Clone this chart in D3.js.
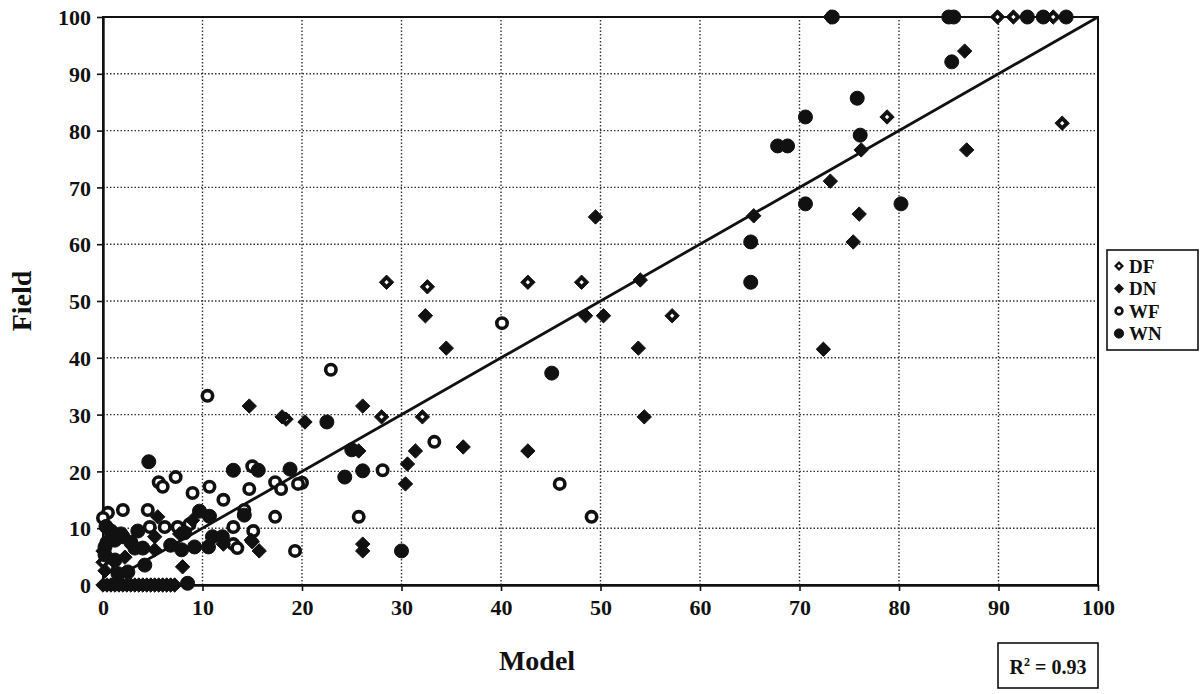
<!DOCTYPE html>
<html>
<head>
<meta charset="utf-8">
<script src="https://cdn.jsdelivr.net/npm/d3@7"></script>
<style>
  body { margin: 0; background: #fff; }
  svg text { font-family: "Liberation Serif", "Times New Roman", serif; fill: #111; }
</style>
</head>
<body>
<div id="chart"></div>
<script>
// ticks
var xTicks = [0, 10, 20, 30, 40, 50, 60, 70, 80, 90, 100];
var yTicks = [0, 10, 20, 30, 40, 50, 60, 70, 80, 90, 100];

// DF (hollow diamond)  [model, field]
var dfPoints = [
  [28.5, 53.3], [32.6, 52.5], [42.7, 53.3], [48.1, 53.3], [57.2, 47.4],
  [28.0, 29.6], [32.1, 29.6], [18.4, 29.2], [73.1, 100], [89.9, 100],
  [91.5, 100], [95.5, 100], [78.8, 82.4], [96.4, 81.3],
  [0, 0], [0.8, 0], [1.6, 0], [2.4, 0], [3.2, 0], [4.0, 0], [4.8, 0],
  [5.6, 0], [6.4, 0], [7.2, 0], [0, 4.0]
];

// DN (filled diamond)
var dnPoints = [
  [32.4, 47.4], [34.5, 41.7], [48.5, 47.4], [50.3, 47.4], [54.0, 53.7],
  [53.8, 41.7], [49.5, 64.8], [54.4, 29.6], [42.7, 23.6], [31.4, 23.6],
  [36.2, 24.3], [30.6, 21.3], [30.4, 17.8], [26.1, 31.5], [20.3, 28.7],
  [25.7, 23.6], [26.1, 7.2], [26.1, 6.0], [14.7, 31.5], [18.0, 29.6],
  [65.4, 65.0], [76.0, 65.3], [75.4, 60.4], [72.4, 41.5], [73.1, 71.1],
  [76.2, 76.6], [86.8, 76.6], [86.6, 94.0], [5.5, 12.0], [9.0, 11.4],
  [14.9, 7.9], [15.7, 6.0], [15.0, 7.6], [8.0, 3.2], [5.2, 8.5],
  [5.2, 6.2], [2.2, 4.9], [12.1, 7.2], [7.7, 9.0], [0.4, 0], [1.2, 0],
  [2.0, 0], [2.8, 0], [3.6, 0], [4.4, 0], [5.2, 0], [6.0, 0], [6.8, 0],
  [0.2, 2.5], [0, 6.0]
];

// WF (hollow circle)
var wfPoints = [
  [40.1, 46.1], [45.9, 17.8], [49.1, 12.0], [33.3, 25.2], [28.1, 20.2],
  [22.9, 37.9], [20.0, 18.0], [25.7, 12.0], [10.5, 33.3], [15.0, 20.9],
  [7.3, 19.0], [5.6, 18.1], [6.0, 17.3], [10.7, 17.3], [9.0, 16.2],
  [14.7, 16.9], [17.3, 18.1], [17.9, 16.9], [19.6, 17.8], [12.1, 15.0],
  [2.0, 13.2], [0.5, 12.7], [0, 11.8], [4.5, 13.2], [14.2, 13.2],
  [17.3, 12.0], [4.7, 10.2], [6.2, 10.2], [7.5, 10.2], [8.7, 10.7],
  [13.1, 10.2], [15.1, 9.5], [19.3, 6.0], [0.5, 3.2], [13.1, 7.2],
  [13.5, 6.5]
];

// WN (filled circle)
var wnPoints = [
  [45.1, 37.3], [22.5, 28.7], [25.0, 23.8], [26.1, 20.1], [24.3, 19.0],
  [30.0, 6.0], [73.3, 100], [85.0, 100], [85.5, 100], [92.9, 100],
  [94.5, 100], [96.8, 100], [85.3, 92.1], [75.8, 85.7], [70.6, 82.4],
  [67.8, 77.3], [68.8, 77.3], [76.1, 79.2], [70.6, 67.1], [80.2, 67.1],
  [65.1, 60.4], [65.1, 53.3], [4.6, 21.7], [13.1, 20.2], [15.6, 20.2],
  [18.8, 20.4], [10.7, 12.1], [14.2, 12.3], [9.7, 13.0], [8.2, 9.2],
  [2.0, 8.5], [1.2, 7.9], [0.2, 6.7], [0.2, 5.3], [3.2, 6.5], [4.0, 6.5],
  [1.2, 4.4], [2.5, 2.3], [4.2, 3.5], [7.9, 6.2], [9.2, 6.7], [10.6, 6.7],
  [11.0, 8.5], [12.0, 8.5], [8.5, 0.3], [0.3, 10.3], [1.8, 9.0],
  [0.8, 9.5], [3.5, 9.5], [2.8, 7.5], [6.8, 7.0], [0.4, 7.5], [1.5, 2.0]
];

// regression line (y = x)
var fitLine = [[0, 0], [100, 100]];
var r2 = "0.93";

var legendNames = ["DF", "DN", "WF", "WN"];

var W = 1203, H = 694;
var m = { left: 103, right: 1098, top: 17, bottom: 585 };
var serif = "'Liberation Serif', 'Times New Roman', serif";

var svg = d3.select("#chart").append("svg")
    .attr("width", W)
    .attr("height", H);

var x = d3.scaleLinear().domain([0, 100]).range([m.left, m.right]);
var y = d3.scaleLinear().domain([0, 100]).range([m.bottom, m.top]);

// gridlines
var grid = svg.append("g").attr("class", "grid");
grid.selectAll(".vg")
    .data(xTicks.filter(function(d) { return d > 0 && d < 100; }))
    .enter().append("line")
    .attr("x1", function(d) { return x(d); })
    .attr("x2", function(d) { return x(d); })
    .attr("y1", y(0)).attr("y2", y(100))
    .attr("stroke", "#333").attr("stroke-width", 1.4)
    .attr("stroke-dasharray", "1.5,2");
grid.selectAll(".hg")
    .data(yTicks.filter(function(d) { return d > 0 && d < 100; }))
    .enter().append("line")
    .attr("y1", function(d) { return y(d); })
    .attr("y2", function(d) { return y(d); })
    .attr("x1", x(0)).attr("x2", x(100))
    .attr("stroke", "#333").attr("stroke-width", 1.4)
    .attr("stroke-dasharray", "1.5,2");

// frame
svg.append("rect")
    .attr("x", x(0)).attr("y", y(100))
    .attr("width", x(100) - x(0)).attr("height", y(0) - y(100))
    .attr("fill", "none").attr("stroke", "#111").attr("stroke-width", 2);

// axes
var xAxis = d3.axisBottom(x).tickValues(xTicks).tickSize(6).tickSizeOuter(0);
var yAxis = d3.axisLeft(y).tickValues(yTicks).tickSize(6).tickSizeOuter(0);

var gx = svg.append("g").attr("transform", "translate(0," + y(0) + ")").call(xAxis);
var gy = svg.append("g").attr("transform", "translate(" + x(0) + ",0)").call(yAxis);

[gx, gy].forEach(function(g) {
    g.attr("font-family", serif).attr("font-size", 22);
    g.select(".domain").attr("stroke", "#111").attr("stroke-width", 2.4);
    g.selectAll(".tick line").attr("stroke", "#111").attr("stroke-width", 1.6);
    g.selectAll(".tick text")
        .style("font-family", serif)
        .style("font-size", "22px")
        .style("font-weight", "bold")
        .attr("fill", "#111");
});
gx.selectAll(".tick text").attr("y", 10).attr("dy", "0.9em");
gy.selectAll(".tick text").attr("x", -12).attr("dy", "0.35em");

// fit line
svg.append("path")
    .datum(fitLine)
    .attr("d", d3.line().x(function(d) { return x(d[0]); }).y(function(d) { return y(d[1]); }))
    .attr("stroke", "#111").attr("stroke-width", 2.8).attr("fill", "none");

// markers
function diamondPath(cx, cy, s) {
    return "M" + cx + "," + (cy - s) + "L" + (cx + s) + "," + cy +
           "L" + cx + "," + (cy + s) + "L" + (cx - s) + "," + cy + "Z";
}
function diamond(g, data, hollow, s) {
    var p = g.selectAll("g").data(data).enter().append("g");
    p.append("path")
        .attr("d", function(d) { return diamondPath(x(d[0]), y(d[1]), s); })
        .attr("fill", "#111").attr("stroke", "#111").attr("stroke-width", 1);
    if (hollow) {
        p.append("path")
            .attr("d", function(d) { return diamondPath(x(d[0]), y(d[1]), 2.2); })
            .attr("fill", "#fff");
    }
}
function circle(g, data, hollow, r) {
    g.selectAll("circle").data(data).enter().append("circle")
        .attr("cx", function(d) { return x(d[0]); })
        .attr("cy", function(d) { return y(d[1]); })
        .attr("r", r)
        .attr("fill", hollow ? "#fff" : "#111")
        .attr("stroke", "#111")
        .attr("stroke-width", hollow ? 3.6 : 1);
}

circle(svg.append("g").attr("class", "wf"), wfPoints, true, 5.2);
diamond(svg.append("g").attr("class", "df"), dfPoints, true, 7.2);
diamond(svg.append("g").attr("class", "dn"), dnPoints, false, 7.2);
circle(svg.append("g").attr("class", "wn"), wnPoints, false, 7);

// axis titles
svg.append("text")
    .attr("x", 537).attr("y", 670)
    .attr("text-anchor", "middle")
    .style("font-size", "28px").style("font-weight", "bold")
    .text("Model");
svg.append("text")
    .attr("transform", "translate(31," + ((m.top + m.bottom) / 2) + ") rotate(-90)")
    .attr("text-anchor", "middle")
    .style("font-size", "28px").style("font-weight", "bold")
    .text("Field");

// legend
var leg = svg.append("g").attr("transform", "translate(1107,250)");
leg.append("rect")
    .attr("width", 91).attr("height", 100)
    .attr("fill", "#fff").attr("stroke", "#111").attr("stroke-width", 1.6);
legendNames.forEach(function(name, i) {
    var ly = 16 + i * 22.5;
    var g = leg.append("g");
    if (name === "DF" || name === "DN") {
        g.append("path").attr("d", diamondPath(12, ly, 5)).attr("fill", "#111");
        if (name === "DF") g.append("path").attr("d", diamondPath(12, ly, 1.8)).attr("fill", "#fff");
    } else {
        g.append("circle").attr("cx", 12).attr("cy", ly)
            .attr("r", name === "WF" ? 3.4 : 4.6)
            .attr("fill", name === "WF" ? "#fff" : "#111")
            .attr("stroke", "#111").attr("stroke-width", name === "WF" ? 2.6 : 1);
    }
    g.append("text").attr("x", 22).attr("y", ly).attr("dy", "0.35em")
        .style("font-size", "19px").style("font-weight", "bold")
        .text(name);
});

// R² box
var rb = svg.append("g").attr("transform", "translate(998,643)");
rb.append("rect")
    .attr("width", 100).attr("height", 45)
    .attr("fill", "#fff").attr("stroke", "#111").attr("stroke-width", 1.6);
var rt = rb.append("text").attr("x", 50).attr("y", 31)
    .attr("text-anchor", "middle")
    .style("font-size", "20px").style("font-weight", "bold");
rt.append("tspan").text("R");
rt.append("tspan").attr("dy", -8).style("font-size", "12px").text("2");
rt.append("tspan").attr("dy", 8).text(" = " + r2);
</script>
</body>
</html>
